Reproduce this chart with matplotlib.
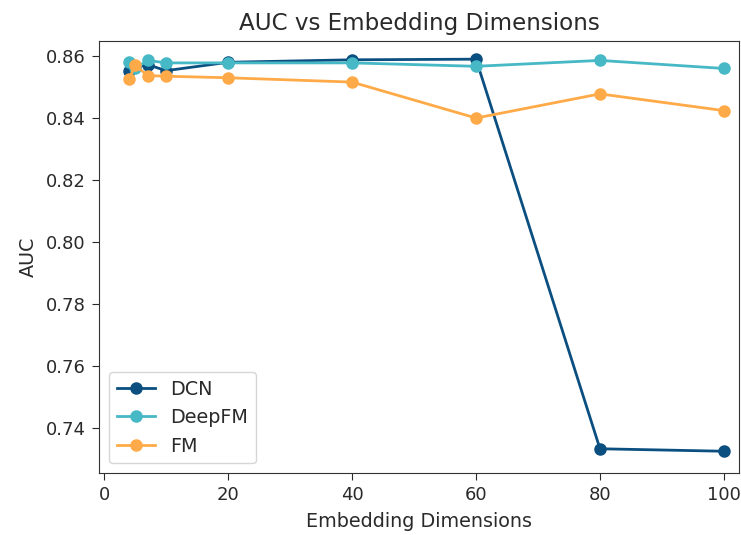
import matplotlib
matplotlib.use("Agg")
import matplotlib.pyplot as plt

dims = [4, 5, 7, 10, 20, 40, 60, 80, 100]
dcn = [0.8553, 0.8565, 0.8572, 0.8553, 0.8580, 0.8588, 0.8590, 0.7333, 0.7325]
deepfm = [0.8582, 0.8560, 0.8586, 0.8578, 0.8578, 0.8578, 0.8567, 0.8586, 0.8560]
fm = [0.8525, 0.8571, 0.8537, 0.8535, 0.8530, 0.8516, 0.8400, 0.8478, 0.8424]
yticks = [0.74, 0.76, 0.78, 0.80, 0.82, 0.84, 0.86]

txt = '#2a2a2a'
plt.rcParams['text.color'] = txt
plt.rcParams['axes.labelcolor'] = txt
plt.rcParams['xtick.color'] = txt
plt.rcParams['ytick.color'] = txt
plt.rcParams['axes.edgecolor'] = '#333333'
plt.rcParams['xtick.major.size'] = 4.8
plt.rcParams['ytick.major.size'] = 4.8
plt.rcParams['xtick.major.pad'] = 4.8
plt.rcParams['ytick.major.pad'] = 4.8
plt.rcParams['axes.labelpad'] = 5.5

plt.figure(figsize=(7.41, 5.35), dpi=100)
plt.plot(dims, dcn, marker='o', color='#0b4f80', label='DCN', linewidth=2, markersize=8)
plt.plot(dims, deepfm, marker='o', color='#47b8c6', label='DeepFM', linewidth=2, markersize=8)
plt.plot(dims, fm, marker='o', color='#ffaa48', label='FM', linewidth=2, markersize=8)
plt.title("AUC vs Embedding Dimensions", fontsize=16.6, pad=8.3)
plt.xlabel("Embedding Dimensions", fontsize=13.8)
plt.ylabel("AUC", fontsize=13.8)
plt.xticks([0, 20, 40, 60, 80, 100], fontsize=13)
plt.yticks(yticks, ["%.2f" % v for v in yticks], fontsize=13)
plt.xlim(-0.8, 102.4)
plt.ylim(0.7255, 0.8648)
plt.legend(loc='lower left', fontsize=13.8)
plt.subplots_adjust(left=0.134, right=0.997, top=0.923, bottom=0.116)
plt.savefig("out.png")
